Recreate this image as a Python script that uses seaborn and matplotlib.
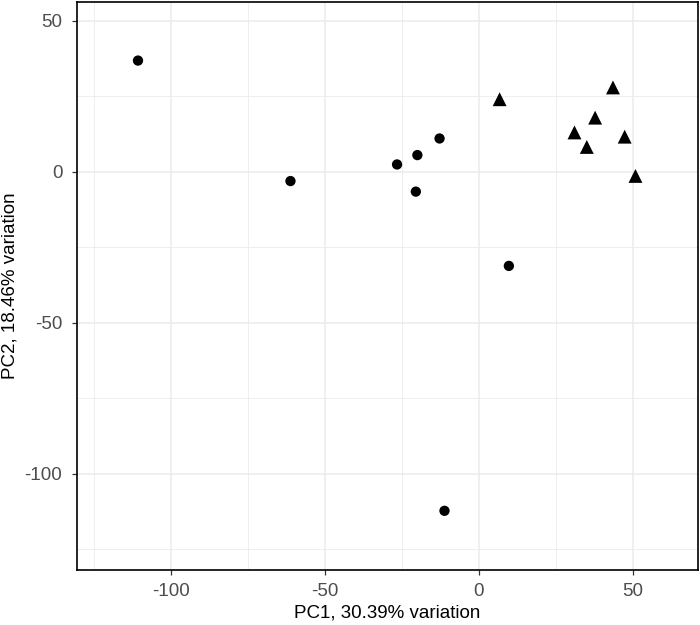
import pandas as pd
import matplotlib
matplotlib.use('Agg')
import matplotlib.pyplot as plt
from matplotlib.ticker import MultipleLocator
import seaborn as sns

# PCA scores
pc1 = [-110.7, -61.2, -26.6, -20.0, -12.8, -20.5, 9.7, -11.2,
       6.7, 43.5, 37.7, 31.0, 35.0, 47.3, 50.8]
pc2 = [36.8, -3.1, 2.4, 5.5, 11.0, -6.6, -31.2, -112.3,
       24.0, 27.9, 17.9, 13.0, 8.2, 11.6, -1.4]
group = ['A'] * 8 + ['B'] * 7

df = pd.DataFrame({'PC1': pc1, 'PC2': pc2, 'group': group})

sns.set_style('white')
plt.rcParams['font.family'] = ['Liberation Sans', 'DejaVu Sans']
plt.rcParams['axes.unicode_minus'] = False

fig = plt.figure(figsize=(7, 6.25), dpi=100)
ax = fig.add_axes([0.11, 0.088, 0.8867, 0.9093])

# grid first so points sit on top
ax.set_axisbelow(True)
ax.xaxis.set_major_locator(MultipleLocator(50))
ax.yaxis.set_major_locator(MultipleLocator(50))
ax.xaxis.set_minor_locator(MultipleLocator(25))
ax.yaxis.set_minor_locator(MultipleLocator(25))
ax.grid(which='major', color='#EBEBEB', linewidth=1.1)
ax.grid(which='minor', color='#EBEBEB', linewidth=0.6)

for g, m, s in [('A', 'o', 55), ('B', '^', 100)]:
    sub = df[df.group == g]
    sns.scatterplot(data=sub, x='PC1', y='PC2', marker=m, s=s, color='black',
                    edgecolor='none', linewidth=0, legend=False, ax=ax)

ax.set_xlim(-130.5, 71.0)
ax.set_ylim(-131.9, 56.3)

for sp in ax.spines.values():
    sp.set_color('black')
    sp.set_linewidth(1.2)

ax.tick_params(which='major', direction='out', length=3.6, width=0.9,
               color='#333333', labelcolor='#4D4D4D', labelsize=13.5,
               bottom=True, left=True)
ax.tick_params(axis='x', pad=6)
ax.tick_params(axis='y', pad=7)
ax.tick_params(which='minor', length=0, bottom=False, left=False)

ax.set_xlabel('PC1, 30.39% variation', fontsize=13.5, color='black', labelpad=3)
ax.set_ylabel('PC2, 18.46% variation', fontsize=13.5, color='black', labelpad=4)

fig.savefig('out.png', dpi=100)
